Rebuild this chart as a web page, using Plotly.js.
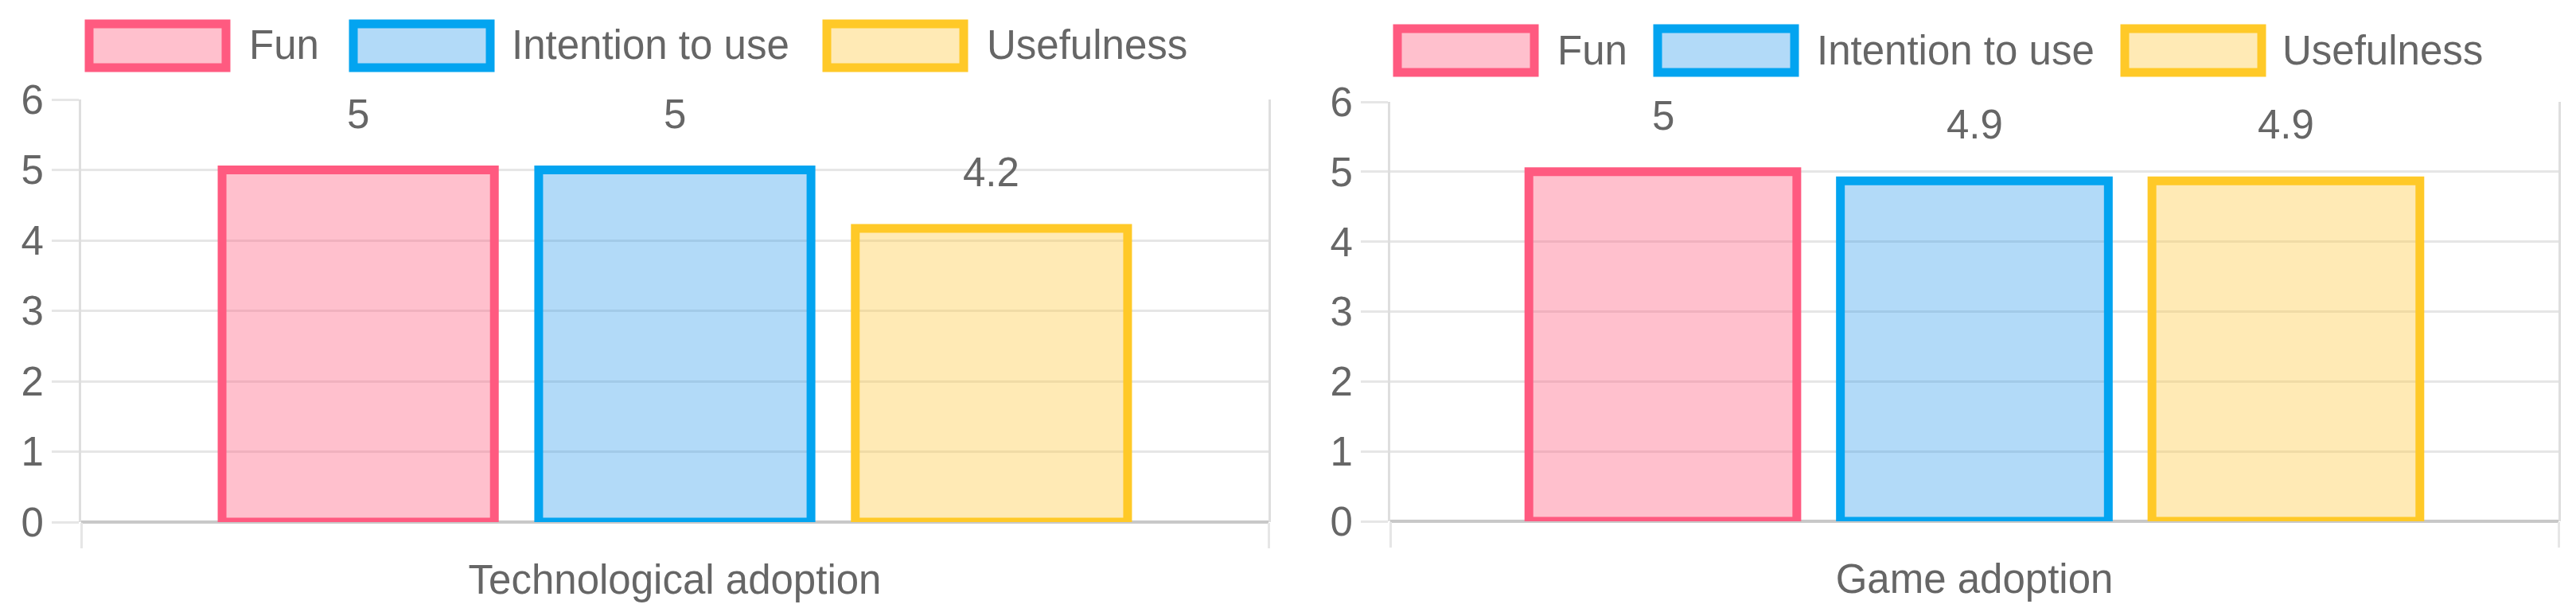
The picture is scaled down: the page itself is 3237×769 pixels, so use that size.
<!DOCTYPE html>
<html>
<head>
<meta charset="utf-8">
<script src="https://cdn.plot.ly/plotly-3.0.1.min.js"></script>
<style>
  html, body { margin: 0; padding: 0; background: #fff; }
  #plot { width: 3237px; height: 769px; }
</style>
</head>
<body>
<div id="plot"></div>
<script>
// data
var techCategories = ['Technological adoption'];
var gameCategories = ['Game adoption'];
var seriesNames = ['Fun', 'Intention to use', 'Usefulness'];
var techValues = [5, 5, 4.17];
var gameValues = [5, 4.87, 4.87];

var borderColors = ['rgb(255,90,128)', 'rgb(3,164,240)', 'rgb(255,201,40)'];
var fillColors = ['rgba(255,98,130,0.4)', 'rgba(35,149,235,0.35)', 'rgba(255,203,70,0.4)'];

var W = 3237, H = 769;
function px(x) { return x / W; }
function py(y) { return 1 - y / H; }

var fontFamily = 'Liberation Sans, Arial, sans-serif';
var textGray = '#666666';
var gridGray = '#e6e6e6';
var bargap = 0.2;

function label(v) { return String(Math.round(v * 10) / 10); }

var data = [];
var annotations = [];
var shapes = [];

[[techCategories, techValues, ''], [gameCategories, gameValues, '2']].forEach(function (c) {
  var cats = c[0], vals = c[1], sfx = c[2];
  seriesNames.forEach(function (name, i) {
    data.push({
      type: 'bar',
      name: name,
      x: cats,
      y: [vals[i]],
      xaxis: 'x' + sfx,
      yaxis: 'y' + sfx,
      marker: { color: fillColors[i], line: { color: borderColors[i], width: 11 } },
      showlegend: false,
      hoverinfo: 'none'
    });
    annotations.push({
      xref: 'x' + sfx, yref: 'y' + sfx,
      x: (i - 1) * (1 - bargap) / 3,
      y: vals[i],
      text: label(vals[i]),
      showarrow: false,
      yanchor: 'bottom',
      yshift: 40,
      font: { family: fontFamily, size: 51, color: textGray }
    });
  });
});

// hand-made legends (chart.js style wide boxes)
var legendItems = [
  { box: [107, 25], text: 311 }, { box: [439, 25], text: 641 }, { box: [1034, 25], text: 1238 },
  { box: [1751, 31], text: 1955 }, { box: [2078, 31], text: 2281 }, { box: [2665, 31], text: 2866 }
];
legendItems.forEach(function (it, k) {
  var i = k % 3;
  var x0 = it.box[0], y0 = it.box[1];
  shapes.push({
    type: 'rect', xref: 'paper', yref: 'paper',
    x0: px(x0 + 5), x1: px(x0 + 177), y0: py(y0 + 5), y1: py(y0 + 60),
    fillcolor: fillColors[i], line: { color: borderColors[i], width: 11 }
  });
  annotations.push({
    xref: 'paper', yref: 'paper', x: px(it.text), y: py(y0 + 32),
    xanchor: 'left', yanchor: 'middle', showarrow: false,
    text: seriesNames[i],
    font: { family: fontFamily, size: 51, color: textGray }
  });
});

function xAxis(domain, anchor) {
  return {
    domain: domain,
    anchor: anchor,
    type: 'category',
    range: [-0.5, 0.5],
    showgrid: false,
    tickson: 'boundaries',
    ticks: 'outside', ticklen: 32, tickwidth: 3, tickcolor: gridGray,
    ticklabelstandoff: 38,
    showline: false, zeroline: false,
    tickfont: { family: fontFamily, size: 51, color: textGray },
    fixedrange: true
  };
}
function yAxis(domain, anchor) {
  return {
    domain: domain,
    anchor: anchor,
    range: [0, 6], tick0: 0, dtick: 1,
    showgrid: true, gridcolor: gridGray, gridwidth: 3,
    zeroline: true, zerolinecolor: '#c8c8c8', zerolinewidth: 4,
    ticks: 'outside', ticklen: 34, tickwidth: 3, tickcolor: gridGray,
    showline: true, mirror: true, linecolor: '#dedede', linewidth: 3,
    tickfont: { family: fontFamily, size: 51, color: textGray },
    fixedrange: true
  };
}

var layout = {
  width: W, height: H,
  margin: { l: 0, r: 0, t: 0, b: 0 },
  paper_bgcolor: '#fff', plot_bgcolor: 'rgba(0,0,0,0)',
  barmode: 'group',
  bargap: bargap,
  bargroupgap: 0.14,
  showlegend: false,
  xaxis: xAxis([px(102), px(1594)], 'y'),
  yaxis: yAxis([py(656), py(125)], 'x'),
  xaxis2: xAxis([px(1747), px(3215)], 'y2'),
  yaxis2: yAxis([py(655), py(128)], 'x2'),
  annotations: annotations,
  shapes: shapes
};

Plotly.newPlot('plot', data, layout, { staticPlot: true });
</script>
</body>
</html>
